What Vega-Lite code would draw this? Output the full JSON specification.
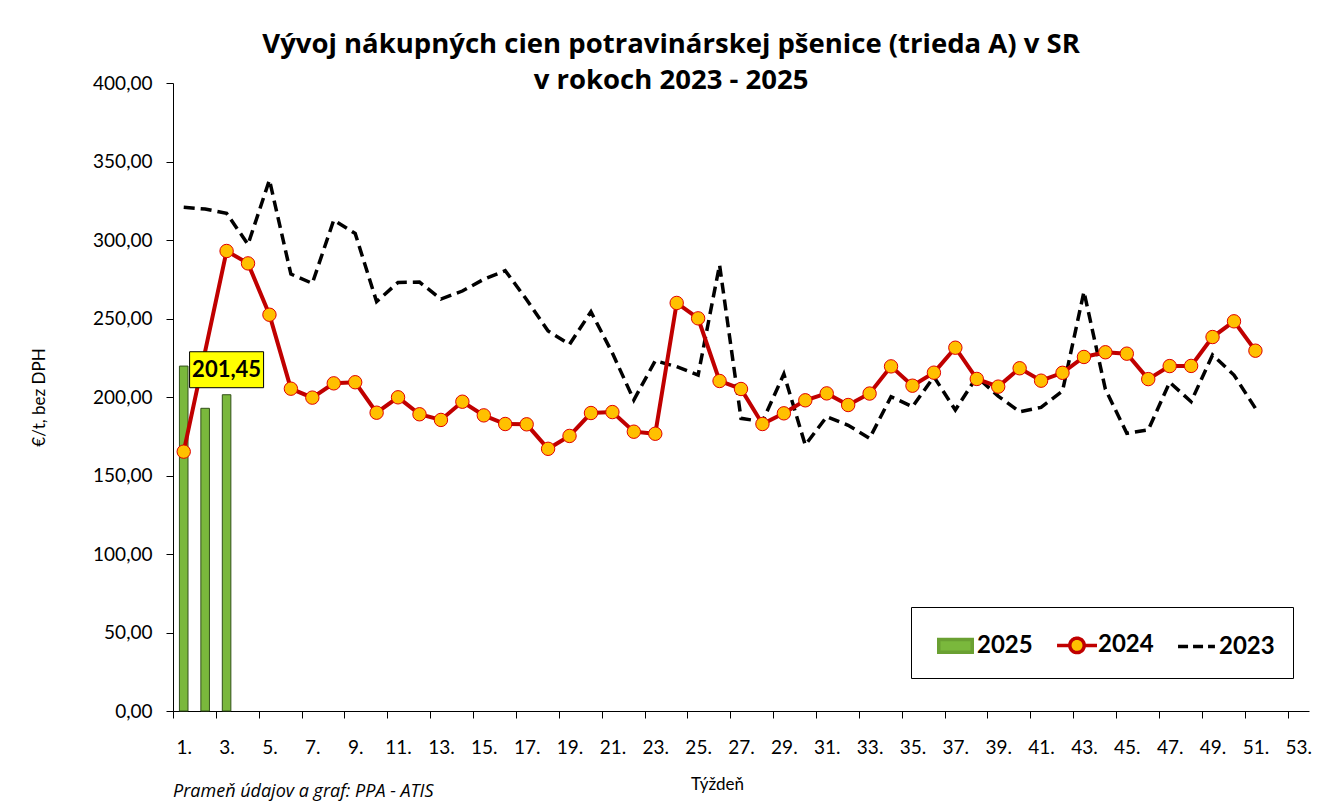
{
  "$schema": "https://vega.github.io/schema/vega-lite/v6.json",
  "background": "white",
  "padding": {"left": 30, "top": 30, "right": 25, "bottom": 5},
  "title": {
    "text": ["Vývoj nákupných cien potravinárskej pšenice (trieda A) v SR", "v rokoch 2023 - 2025"],
    "fontSize": 27.5,
    "fontWeight": "bold",
    "font": "Open Sans",
    "color": "#000000",
    "lineHeight": 36,
    "anchor": "middle",
    "frame": "bounds",
    "offset": -20
  },
  "datasets": {
    "ceny": [
      {"t": 1, "rok": "2025", "v": 219.7},
      {"t": 2, "rok": "2025", "v": 192.8},
      {"t": 3, "rok": "2025", "v": 201.45},
      {"t": 1, "rok": "2024", "v": 165.2},
      {"t": 3, "rok": "2024", "v": 293.0},
      {"t": 4, "rok": "2024", "v": 285.1},
      {"t": 5, "rok": "2024", "v": 252.4},
      {"t": 6, "rok": "2024", "v": 205.3},
      {"t": 7, "rok": "2024", "v": 199.6},
      {"t": 8, "rok": "2024", "v": 208.7},
      {"t": 9, "rok": "2024", "v": 209.4},
      {"t": 10, "rok": "2024", "v": 190.0},
      {"t": 11, "rok": "2024", "v": 199.8},
      {"t": 12, "rok": "2024", "v": 189.0},
      {"t": 13, "rok": "2024", "v": 185.4},
      {"t": 14, "rok": "2024", "v": 197.0},
      {"t": 15, "rok": "2024", "v": 188.3},
      {"t": 16, "rok": "2024", "v": 182.8},
      {"t": 17, "rok": "2024", "v": 182.6},
      {"t": 18, "rok": "2024", "v": 167.0},
      {"t": 19, "rok": "2024", "v": 175.2},
      {"t": 20, "rok": "2024", "v": 189.8},
      {"t": 21, "rok": "2024", "v": 190.4},
      {"t": 22, "rok": "2024", "v": 177.9},
      {"t": 23, "rok": "2024", "v": 176.6},
      {"t": 24, "rok": "2024", "v": 259.9},
      {"t": 25, "rok": "2024", "v": 250.1},
      {"t": 26, "rok": "2024", "v": 210.2},
      {"t": 27, "rok": "2024", "v": 205.1},
      {"t": 28, "rok": "2024", "v": 182.8},
      {"t": 29, "rok": "2024", "v": 189.6},
      {"t": 30, "rok": "2024", "v": 197.9},
      {"t": 31, "rok": "2024", "v": 202.3},
      {"t": 32, "rok": "2024", "v": 194.9},
      {"t": 33, "rok": "2024", "v": 202.2},
      {"t": 34, "rok": "2024", "v": 219.5},
      {"t": 35, "rok": "2024", "v": 207.2},
      {"t": 36, "rok": "2024", "v": 215.5},
      {"t": 37, "rok": "2024", "v": 231.4},
      {"t": 38, "rok": "2024", "v": 211.5},
      {"t": 39, "rok": "2024", "v": 206.6},
      {"t": 40, "rok": "2024", "v": 218.3},
      {"t": 41, "rok": "2024", "v": 210.4},
      {"t": 42, "rok": "2024", "v": 215.4},
      {"t": 43, "rok": "2024", "v": 225.5},
      {"t": 44, "rok": "2024", "v": 228.5},
      {"t": 45, "rok": "2024", "v": 227.6},
      {"t": 46, "rok": "2024", "v": 211.4},
      {"t": 47, "rok": "2024", "v": 219.7},
      {"t": 48, "rok": "2024", "v": 219.8},
      {"t": 49, "rok": "2024", "v": 238.2},
      {"t": 50, "rok": "2024", "v": 248.2},
      {"t": 51, "rok": "2024", "v": 229.5},
      {"t": 1, "rok": "2023", "v": 320.8},
      {"t": 2, "rok": "2023", "v": 319.7},
      {"t": 3, "rok": "2023", "v": 317.0},
      {"t": 4, "rok": "2023", "v": 297.2},
      {"t": 5, "rok": "2023", "v": 338.2},
      {"t": 6, "rok": "2023", "v": 278.3},
      {"t": 7, "rok": "2023", "v": 272.4},
      {"t": 8, "rok": "2023", "v": 312.7},
      {"t": 9, "rok": "2023", "v": 304.2},
      {"t": 10, "rok": "2023", "v": 260.7},
      {"t": 11, "rok": "2023", "v": 273.0},
      {"t": 12, "rok": "2023", "v": 273.2},
      {"t": 13, "rok": "2023", "v": 262.4},
      {"t": 14, "rok": "2023", "v": 267.5},
      {"t": 15, "rok": "2023", "v": 275.0},
      {"t": 16, "rok": "2023", "v": 280.5},
      {"t": 17, "rok": "2023", "v": 262.0},
      {"t": 18, "rok": "2023", "v": 242.0},
      {"t": 19, "rok": "2023", "v": 233.5},
      {"t": 20, "rok": "2023", "v": 254.3},
      {"t": 21, "rok": "2023", "v": 228.0},
      {"t": 22, "rok": "2023", "v": 198.1},
      {"t": 23, "rok": "2023", "v": 223.1},
      {"t": 24, "rok": "2023", "v": 219.3},
      {"t": 25, "rok": "2023", "v": 214.0},
      {"t": 26, "rok": "2023", "v": 284.1},
      {"t": 27, "rok": "2023", "v": 186.4},
      {"t": 28, "rok": "2023", "v": 184.3},
      {"t": 29, "rok": "2023", "v": 214.6},
      {"t": 30, "rok": "2023", "v": 169.4},
      {"t": 31, "rok": "2023", "v": 187.5},
      {"t": 32, "rok": "2023", "v": 182.0},
      {"t": 33, "rok": "2023", "v": 173.7},
      {"t": 34, "rok": "2023", "v": 200.2},
      {"t": 35, "rok": "2023", "v": 193.8},
      {"t": 36, "rok": "2023", "v": 212.9},
      {"t": 37, "rok": "2023", "v": 191.7},
      {"t": 38, "rok": "2023", "v": 212.8},
      {"t": 39, "rok": "2023", "v": 200.6},
      {"t": 40, "rok": "2023", "v": 190.6},
      {"t": 41, "rok": "2023", "v": 193.4},
      {"t": 42, "rok": "2023", "v": 203.8},
      {"t": 43, "rok": "2023", "v": 267.1},
      {"t": 44, "rok": "2023", "v": 205.0},
      {"t": 45, "rok": "2023", "v": 176.9},
      {"t": 46, "rok": "2023", "v": 179.0},
      {"t": 47, "rok": "2023", "v": 209.4},
      {"t": 48, "rok": "2023", "v": 197.0},
      {"t": 49, "rok": "2023", "v": 226.8},
      {"t": 50, "rok": "2023", "v": 214.0},
      {"t": 51, "rok": "2023", "v": 192.8}
    ]
  },
  "vconcat": [
    {
      "width": 1136,
      "height": 628,
      "title": {
        "text": "Prameň údajov a graf: PPA - ATIS",
        "orient": "bottom",
        "anchor": "start",
        "frame": "group",
        "fontSize": 18,
        "fontStyle": "italic",
        "fontWeight": "normal",
        "font": "Open Sans",
        "color": "#000000",
        "offset": -9
      },
      "data": {"name": "ceny"},
      "encoding": {
        "x": {
          "field": "t",
          "type": "ordinal",
          "scale": {
            "domain": [1,2,3,4,5,6,7,8,9,10,11,12,13,14,15,16,17,18,19,20,21,22,23,24,25,26,27,28,29,30,31,32,33,34,35,36,37,38,39,40,41,42,43,44,45,46,47,48,49,50,51,52,53],
            "paddingInner": 0,
            "paddingOuter": 0
          },
          "axis": {
            "title": "Týždeň",
            "values": [1,3,5,7,9,11,13,15,17,19,21,23,25,27,29,31,33,35,37,39,41,43,45,47,49,51,53],
            "labelExpr": "datum.value + '.'",
            "labelAngle": 0,
            "tickOffset": -10.717,
            "labelOffset": 10.717,
            "titleX": 544
          }
        },
        "y": {
          "field": "v",
          "type": "quantitative",
          "scale": {"domain": [0, 400], "nice": false},
          "axis": {
            "title": "€/t, bez DPH",
            "values": [0,50,100,150,200,250,300,350,400],
            "format": ".2f",
            "orient": "left"
          }
        }
      },
      "layer": [
        {
          "transform": [{"filter": "datum.rok == '2025'"}],
          "mark": {"type": "bar", "width": {"band": 0.4}, "color": "#7AB83C", "stroke": "#33501a", "strokeWidth": 1}
        },
        {
          "transform": [{"filter": "datum.rok == '2023'"}],
          "mark": {"type": "line", "color": "#000000", "strokeWidth": 3.5, "strokeDash": [11, 6]}
        },
        {
          "transform": [{"filter": "datum.rok == '2024'"}],
          "mark": {"type": "line", "color": "#C00000", "strokeWidth": 4}
        },
        {
          "transform": [{"filter": "datum.rok == '2024'"}],
          "mark": {"type": "point", "shape": "circle", "filled": true, "size": 180, "fill": "#FFC000", "stroke": "#E00000", "strokeWidth": 1, "opacity": 1}
        },
        {
          "mark": {"type": "point", "filled": true, "size": 1296, "opacity": 0},
          "encoding": {
            "fill": {
              "field": "rok",
              "type": "nominal",
              "scale": {"domain": ["2025", "2024", "2023"], "range": ["#7AB83C", "#FFC000", "transparent"]},
              "legend": {
                "title": null,
                "orient": "none",
                "legendX": 738,
                "legendY": 524,
                "direction": "horizontal",
                "columns": 3,
                "padding": 18,
                "columnPadding": 17,
                "strokeColor": "#000000",
                "fillColor": "#ffffff",
                "symbolSize": 1296,
                "symbolOpacity": 1,
                "symbolStrokeWidth": 3.5,
                "labelOffset": 8,
                "labelFontSize": 24,
                "labelFontWeight": "bold",
                "labelColor": "#000000",
                "labelFont": "Lato"
              }
            },
            "stroke": {
              "field": "rok",
              "type": "nominal",
              "scale": {"domain": ["2025", "2024", "2023"], "range": ["#6aa032", "#C00000", "#000000"]},
              "legend": {
                "title": null,
                "orient": "none",
                "legendX": 738,
                "legendY": 524,
                "direction": "horizontal",
                "columns": 3,
                "padding": 18,
                "columnPadding": 17,
                "strokeColor": "#000000",
                "fillColor": "#ffffff",
                "symbolSize": 1296,
                "symbolOpacity": 1,
                "symbolStrokeWidth": 3.5,
                "labelOffset": 8,
                "labelFontSize": 24,
                "labelFontWeight": "bold",
                "labelColor": "#000000",
                "labelFont": "Lato"
              }
            },
            "shape": {
              "field": "rok",
              "type": "nominal",
              "scale": {
                "domain": ["2025", "2024", "2023"],
                "range": [
                  "M-0.57,-0.35H1.29V0.35H-0.57Z",
                  "M-0.72,0H-0.01M0.79,0H1.5M0.79,0A0.4,0.4 0 1,1 -0.01,0A0.4,0.4 0 1,1 0.79,0Z",
                  "M-0.72,0H1.33"
                ]
              },
              "legend": {
                "title": null,
                "orient": "none",
                "legendX": 738,
                "legendY": 524,
                "direction": "horizontal",
                "columns": 3,
                "padding": 18,
                "columnPadding": 17,
                "strokeColor": "#000000",
                "fillColor": "#ffffff",
                "symbolSize": 1296,
                "symbolOpacity": 1,
                "symbolStrokeWidth": 3.5,
                "labelOffset": 8,
                "labelFontSize": 24,
                "labelFontWeight": "bold",
                "labelColor": "#000000",
                "labelFont": "Lato"
              }
            },
            "strokeDash": {
              "field": "rok",
              "type": "nominal",
              "scale": {"domain": ["2025", "2024", "2023"], "range": [[1, 0], [1, 0], [10, 5]]},
              "legend": {
                "title": null,
                "orient": "none",
                "legendX": 738,
                "legendY": 524,
                "direction": "horizontal",
                "columns": 3,
                "padding": 18,
                "columnPadding": 17,
                "strokeColor": "#000000",
                "fillColor": "#ffffff",
                "symbolSize": 1296,
                "symbolOpacity": 1,
                "symbolStrokeWidth": 3.5,
                "labelOffset": 8,
                "labelFontSize": 24,
                "labelFontWeight": "bold",
                "labelColor": "#000000",
                "labelFont": "Lato"
              }
            }
          }
        },
        {
          "transform": [{"filter": "datum.rok == '2025' && datum.t == 3"}],
          "mark": {"type": "point", "shape": "M-1,-0.486H1V0.486H-1Z", "size": 5476, "filled": true, "fill": "#FFFF00", "stroke": "#000000", "strokeWidth": 1, "opacity": 1, "yOffset": -25}
        },
        {
          "transform": [{"filter": "datum.rok == '2025' && datum.t == 3"}],
          "mark": {"type": "text", "fontSize": 22, "fontWeight": "bold", "font": "Lato", "color": "#000000", "baseline": "middle", "align": "center", "yOffset": -25},
          "encoding": {"text": {"field": "v", "type": "quantitative", "format": ".2f"}}
        }
      ]
    }
  ],
  "config": {
    "font": "Lato",
    "view": {"stroke": null},
    "locale": {"number": {"decimal": ",", "thousands": " ", "grouping": [3], "currency": ["", " €"]}},
    "axis": {
      "labelFontSize": 19,
      "labelColor": "#000000",
      "labelFont": "Lato",
      "titleFont": "Lato",
      "titleFontSize": 17,
      "titleFontWeight": "normal",
      "titleColor": "#000000",
      "domainColor": "#000000",
      "tickColor": "#000000",
      "tickSize": 7,
      "grid": false
    },
    "axisY": {"labelPadding": 14, "titlePadding": 44},
    "axisX": {"labelPadding": 20, "titlePadding": 19}
  }
}
